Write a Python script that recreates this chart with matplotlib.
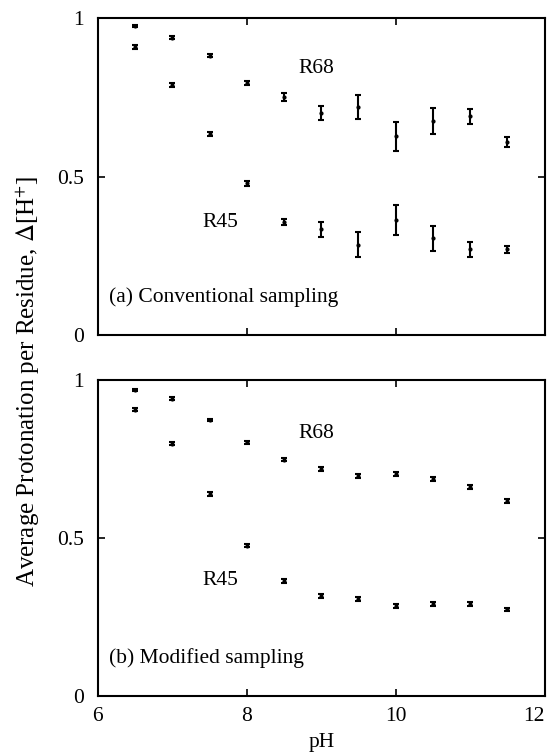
import numpy as np
import matplotlib
matplotlib.use("Agg")
import matplotlib.pyplot as plt

plt.rcParams['font.family'] = ['Liberation Serif', 'DejaVu Serif']
plt.rcParams['mathtext.fontset'] = 'stix'

# pH values for both panels
ph = [6.5, 7.0, 7.5, 8.0, 8.5, 9.0, 9.5, 10.0, 10.5, 11.0, 11.5]

# (a) conventional sampling
a_r68 = [0.975, 0.938, 0.881, 0.796, 0.752, 0.701, 0.720, 0.627, 0.675, 0.690, 0.609]
a_r68_err = [0.003, 0.005, 0.005, 0.006, 0.012, 0.022, 0.038, 0.046, 0.040, 0.024, 0.015]
a_r45 = [0.909, 0.788, 0.635, 0.479, 0.356, 0.334, 0.286, 0.363, 0.306, 0.271, 0.271]
a_r45_err = [0.005, 0.006, 0.006, 0.007, 0.009, 0.023, 0.038, 0.047, 0.040, 0.023, 0.011]

# (b) modified sampling
b_r68 = [0.969, 0.940, 0.872, 0.803, 0.747, 0.717, 0.697, 0.703, 0.686, 0.661, 0.616]
b_r68_err = [0.003, 0.004, 0.003, 0.005, 0.005, 0.006, 0.006, 0.006, 0.006, 0.006, 0.007]
b_r45 = [0.906, 0.798, 0.639, 0.476, 0.364, 0.317, 0.306, 0.286, 0.292, 0.291, 0.274]
b_r45_err = [0.005, 0.005, 0.006, 0.006, 0.006, 0.006, 0.006, 0.006, 0.006, 0.006, 0.006]

fs = 15.5

fig = plt.figure(figsize=(5.5, 7.55), dpi=100)
ax1 = fig.add_axes([0.178, 0.556, 0.812, 0.420])
ax2 = fig.add_axes([0.178, 0.078, 0.812, 0.419])

panels = [
    (ax1, a_r68, a_r68_err, a_r45, a_r45_err, "(a) Conventional sampling"),
    (ax2, b_r68, b_r68_err, b_r45, b_r45_err, "(b) Modified sampling"),
]

for ax, r68, r68e, r45, r45e, lab in panels:
    for vals, errs in [(r68, r68e), (r45, r45e)]:
        ax.errorbar(ph, vals, yerr=errs, fmt='o', color='black', markersize=2,
                    elinewidth=1.5, capsize=2.5, capthick=1.5)
    ax.set_xlim(6, 12)
    ax.set_ylim(0, 1)
    ax.set_xticks([6, 8, 10, 12])
    ax.set_yticks([0, 0.5, 1])
    ax.set_yticklabels(["0", "0.5", "1"])
    ax.tick_params(direction='in', top=True, right=True, length=5, width=1.2,
                   labelsize=fs)
    ax.tick_params(axis='y', pad=10)
    ax.tick_params(axis='x', pad=8)
    for sp in ax.spines.values():
        sp.set_linewidth(1.5)
    ax.text(0.025, 0.12, lab, transform=ax.transAxes, fontsize=fs, ha='left', va='center')

ax1.set_xticklabels([])
ax2.set_xticklabels(["6", "8", "10", "12"])
ax2.get_xticklabels()[-1].set_ha('right')

ax1.text(8.7, 0.84, "R68", fontsize=fs, ha='left', va='center')
ax1.text(7.4, 0.355, "R45", fontsize=fs, ha='left', va='center')
ax2.text(8.7, 0.83, "R68", fontsize=fs, ha='left', va='center')
ax2.text(7.4, 0.365, "R45", fontsize=fs, ha='left', va='center')

ax2.set_xlabel("pH", fontsize=fs, labelpad=5)
fig.text(0.05, 0.495, r"Average Protonation per Residue, $\Delta$[H$^{+}$]",
         rotation=90, fontsize=18, ha='center', va='center')

fig.savefig("out.png", dpi=100)
